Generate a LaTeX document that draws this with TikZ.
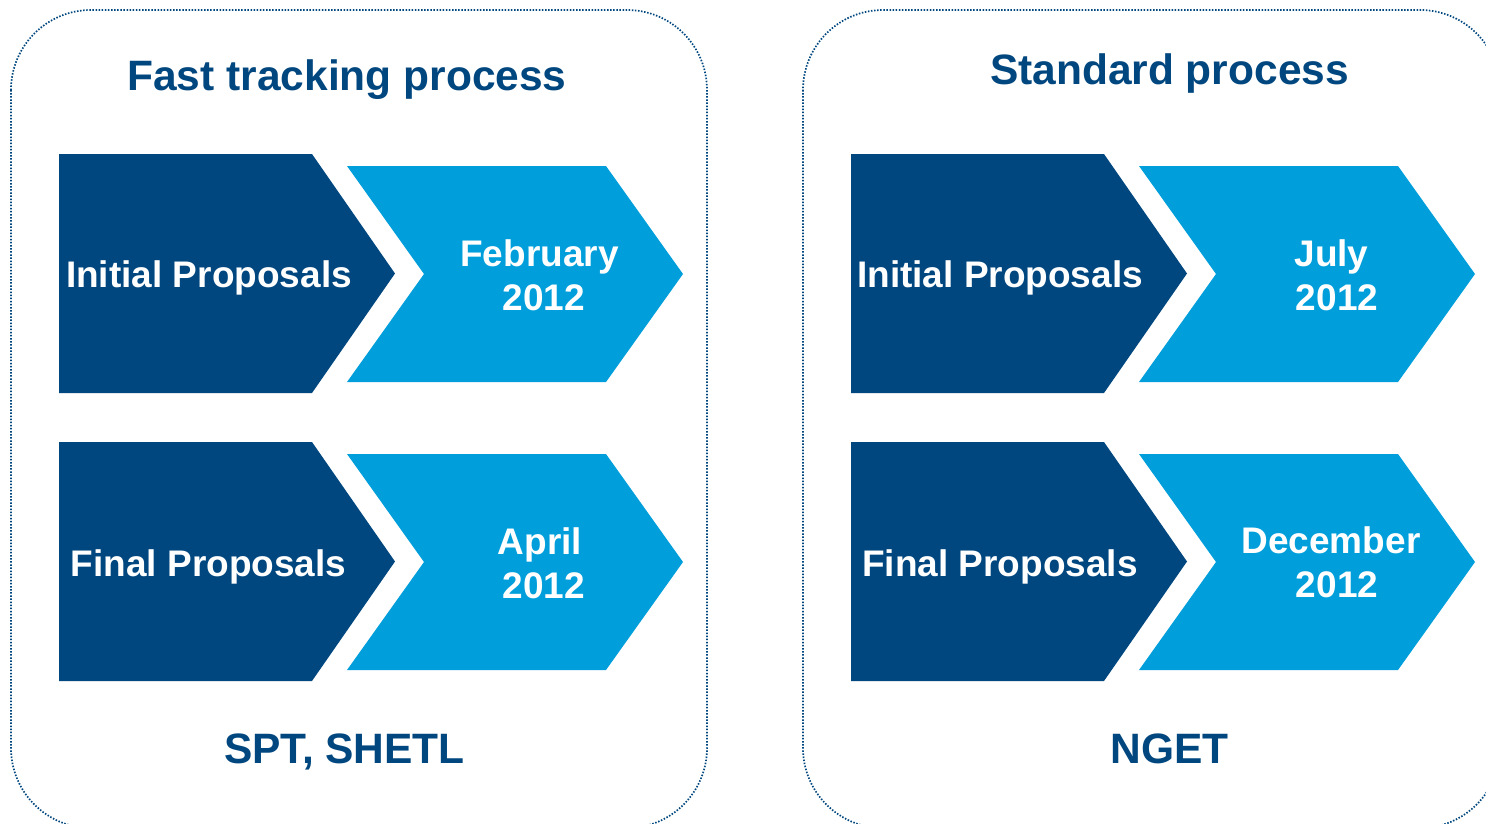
\documentclass[tikz,border=0pt]{standalone}
\usepackage{fontspec}
\setmainfont{Liberation Sans}
\definecolor{navy}{RGB}{0,71,127}
\definecolor{sky}{RGB}{0,159,219}
\begin{document}
\begin{tikzpicture}[x=1pt,y=-1pt,
  panel/.style={draw=navy, line width=1.7pt, dash pattern=on 1.5pt off 1.6pt, rounded corners=80pt},
  darkarrow/.style={fill=navy},
  lightarrow/.style={fill=sky},
  heading/.style={text=navy, font=\bfseries\fontsize{42.5}{50}\selectfont, anchor=base, inner sep=0pt},
  lab/.style={text=white, font=\bfseries\fontsize{37}{44}\selectfont, anchor=base, inner sep=0pt}]
\useasboundingbox (0,0) rectangle (1486,823);
\clip (0,0) rectangle (1486,823);
\fill[white] (0,0) rectangle (1486,823);
% panels
\draw[panel] (11,10) rectangle (707,828);
\draw[panel] (803,10) rectangle (1500,828);
% chevrons
\foreach \dx in {0,792}{
  \foreach \dy in {0,288}{
    \begin{scope}[shift={(\dx,\dy)}]
      \fill[darkarrow] (59,154) -- (312,154) -- (395,273.5) -- (312,393) -- (59,393) -- cycle;
      \fill[lightarrow] (347,166) -- (606,166) -- (683,274) -- (606,382) -- (347,382) -- (424,274) -- cycle;
    \end{scope}
  }
}
% headings
\node[heading] (t1) at (347,90) {Fast tracking process};
\node[heading] (t2) at (1169.5,84) {Standard process};
\node[heading] (b1) at (344.5,763) {SPT, SHETL};
\node[heading] (b2) at (1169.5,763) {NGET};
% labels left
\node[lab] (l1) at (209,287) {Initial Proposals};
\node[lab] (l2) at (208.5,576) {Final Proposals};
\node[lab] (m1a) at (539.5,266) {February};
\node[lab] (m1b) at (544,310) {2012};
\node[lab] (m2a) at (540,554) {April};
\node[lab] (m2b) at (544,598) {2012};
% labels right
\node[lab] (r1) at (1000,287) {Initial Proposals};
\node[lab] (r2) at (1000,576) {Final Proposals};
\node[lab] (n1a) at (1331.5,266) {July};
\node[lab] (n1b) at (1337,310) {2012};
\node[lab] (n2a) at (1331,553) {December};
\node[lab] (n2b) at (1337,597) {2012};
\end{tikzpicture}
\end{document}
